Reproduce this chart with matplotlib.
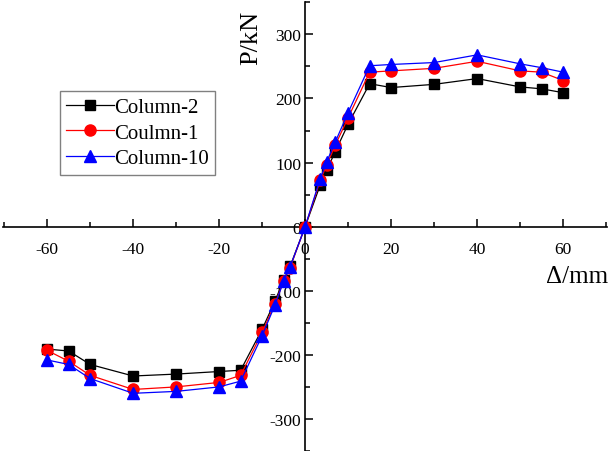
import matplotlib
matplotlib.use("Agg")
import matplotlib.pyplot as plt
from matplotlib.ticker import MultipleLocator, FixedLocator

# ---- data ----
displacement = [-60, -55, -50, -40, -30, -20, -15, -10, -7, -5, -3.5, 0,
                3.5, 5, 7, 10, 15, 20, 30, 40, 50, 55, 60]
column_2 = [-191, -194, -215, -233, -230, -226, -224, -160, -116, -83, -62, 0,
            65, 88, 117, 160, 223, 217, 222, 231, 218, 215, 209]
coulmn_1 = [-193, -210, -232, -254, -250, -243, -232, -165, -120, -85, -64, 0,
            72, 96, 127, 170, 241, 243, 247, 258, 243, 241, 228]
column_10 = [-208, -215, -237, -260, -257, -250, -241, -170, -122, -85, -63, 0,
             75, 101, 132, 178, 251, 253, 256, 268, 254, 248, 241]
series_labels = ["Column-2", "Coulmn-1", "Column-10"]
x_ticks = [-60, -40, -20, 0, 20, 40, 60]
y_ticks = [-300, -200, -100, 0, 100, 200, 300]

plt.rcParams['font.family'] = ['Liberation Serif', 'DejaVu Serif']
plt.rcParams['axes.unicode_minus'] = False

W, H = 609, 452
fig = plt.figure(figsize=(W / 100, H / 100), dpi=100)
ax = fig.add_axes([3.3 / W, 0.0, (607 - 3.3) / W, (452 - 3.3) / H])

ax.plot(displacement, column_2, color='black', lw=0.9, marker='s', ms=7.5,
        mfc='black', mec='black', label=series_labels[0], zorder=3)
ax.plot(displacement, coulmn_1, color='red', lw=0.9, marker='o', ms=8,
        mfc='red', mec='red', label=series_labels[1], zorder=4)
ax.plot(displacement, column_10, color='blue', lw=0.9, marker='^', ms=8.5,
        mfc='blue', mec='blue', label=series_labels[2], zorder=5)

ax.set_xlim(-70.2, 70.2)
ax.set_ylim(-350, 350)

for s in ['top', 'right']:
    ax.spines[s].set_visible(False)
ax.spines['left'].set_position(('data', 0))
ax.spines['bottom'].set_position(('data', 0))
ax.spines['left'].set_linewidth(1.2)
ax.spines['bottom'].set_linewidth(1.2)

ax.xaxis.set_major_locator(FixedLocator(x_ticks))
ax.xaxis.set_minor_locator(MultipleLocator(10))
ax.yaxis.set_major_locator(FixedLocator(y_ticks))
ax.yaxis.set_minor_locator(MultipleLocator(50))

ax.tick_params(axis='x', which='major', direction='in', length=6, width=1.1,
               labelsize=12.5, pad=10)
ax.tick_params(axis='x', which='minor', direction='in', length=3.5, width=1.1)
ax.tick_params(axis='y', which='major', direction='in', length=6, width=1.1,
               labelsize=12.5, pad=3)
ax.tick_params(axis='y', which='minor', direction='in', length=3.5, width=1.1)

ax.text(251 / W, 1 - 38 / H, "P/kN", transform=fig.transFigure, rotation=90,
        ha='center', va='center', fontsize=19)
ax.text(577 / W, 1 - 277 / H, "Δ/mm", transform=fig.transFigure,
        ha='center', va='center', fontsize=18)

leg = ax.legend(loc='upper left', bbox_to_anchor=(60 / W, 1 - 92 / H),
                bbox_transform=fig.transFigure, borderaxespad=0,
                fontsize=15, handlelength=2.3, handletextpad=0.0,
                labelspacing=0.3, borderpad=0.3, fancybox=False,
                framealpha=1, edgecolor='#808080')
leg.get_frame().set_linewidth(1.0)

fig.savefig("out.png", dpi=100)
